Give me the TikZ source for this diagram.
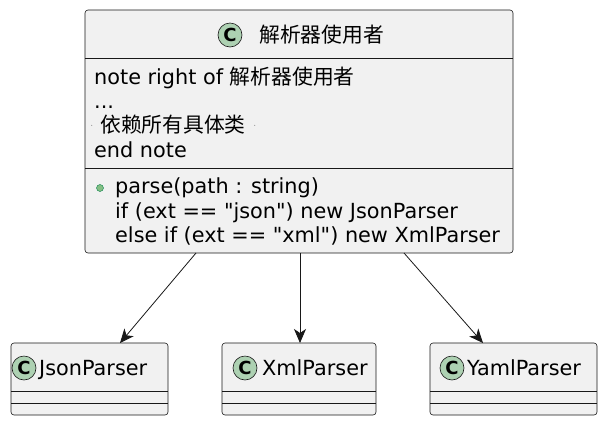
\documentclass[tikz,border=0pt]{standalone}
\usepackage{fontspec}
\newfontfamily\dv{DejaVu Sans}
\newfontfamily\cjk{Noto Sans CJK SC}
\usetikzlibrary{arrows.meta}
\definecolor{boxfill}{HTML}{F1F1F1}
\definecolor{boxline}{HTML}{181818}
\definecolor{cfill}{HTML}{ADD1B2}
\definecolor{dotfill}{HTML}{84BE84}
\definecolor{dotline}{HTML}{038048}
\begin{document}
\begin{tikzpicture}[x=1pt,y=-1pt,
  box/.style={draw=boxline,fill=boxfill,rounded corners=3pt,line width=0.6pt},
  sep/.style={draw=boxline,line width=0.6pt},
  cicon/.style={circle,draw=boxline,fill=cfill,minimum size=24pt,inner sep=0pt,font=\dv\fontsize{18}{18}\selectfont\bfseries,line width=0.6pt},
  txt/.style={anchor=base west,inner sep=0pt,font=\dv\fontsize{20.8}{23}\selectfont},
  arr/.style={draw=boxline,line width=0.8pt,-{Stealth[length=14pt,width=12pt,inset=4pt]}}]
\useasboundingbox (0,0) rectangle (606,424);
% main class
\draw[box] (85,10) rectangle (513,253);
\draw[sep] (85,58) -- (513,58);
\draw[sep] (85,168) -- (513,168);
\node[cicon] (mc) at (230,35) {C};
\node[txt] (mt) at (259,42) {\cjk 解析器使用者};
\node[txt] (l1) at (94,84) {note right of {\cjk 解析器使用者}};
\node[txt] (l2) at (94,108) {...};
\node[txt] (l3) at (100,132) {{\cjk 依赖所有具体类}};
\node[inner sep=0pt,font=\fontsize{8}{8}\selectfont] (d1) at (92,127) {·};
\node[inner sep=0pt,font=\fontsize{8}{8}\selectfont] (d2) at (255,127) {·};
\node[txt] (l4) at (94,157) {end note};
\node[circle,draw=dotline,fill=dotfill,minimum size=7pt,inner sep=0pt] (gd) at (100,188) {};
\node[txt] (m1) at (115,193) {parse(path : string)};
\node[txt] (m2) at (115,218) {if (ext == "json") new JsonParser};
\node[txt] (m3) at (115,242) {else if (ext == "xml") new XmlParser};
% small classes
\draw[box] (11,343) rectangle (168,415);
\draw[sep] (11,391) -- (168,391); \draw[sep] (11,403) -- (168,403);
\node[cicon] (jc) at (24,368) {C};
\node[txt] (jt) at (39,375) {JsonParser};
\draw[box] (222,343) rectangle (376,415);
\draw[sep] (222,391) -- (376,391); \draw[sep] (222,403) -- (376,403);
\node[cicon] (xc) at (245,368) {C};
\node[txt] (xt) at (262,375) {XmlParser};
\draw[box] (430,343) rectangle (597,415);
\draw[sep] (430,391) -- (597,391); \draw[sep] (430,403) -- (597,403);
\node[cicon] (yc) at (452,368) {C};
\node[txt] (yt) at (467,375) {YamlParser};
\coordinate (s1) at (196,253); \coordinate (e1) at (120,343);
\coordinate (s2) at (300,253); \coordinate (e2) at (300,343);
\coordinate (s3) at (404,253); \coordinate (e3) at (483,343);
\draw[arr] (s1) -- (e1);
\draw[arr] (s2) -- (e2);
\draw[arr] (s3) -- (e3);
\end{tikzpicture}
\end{document}
